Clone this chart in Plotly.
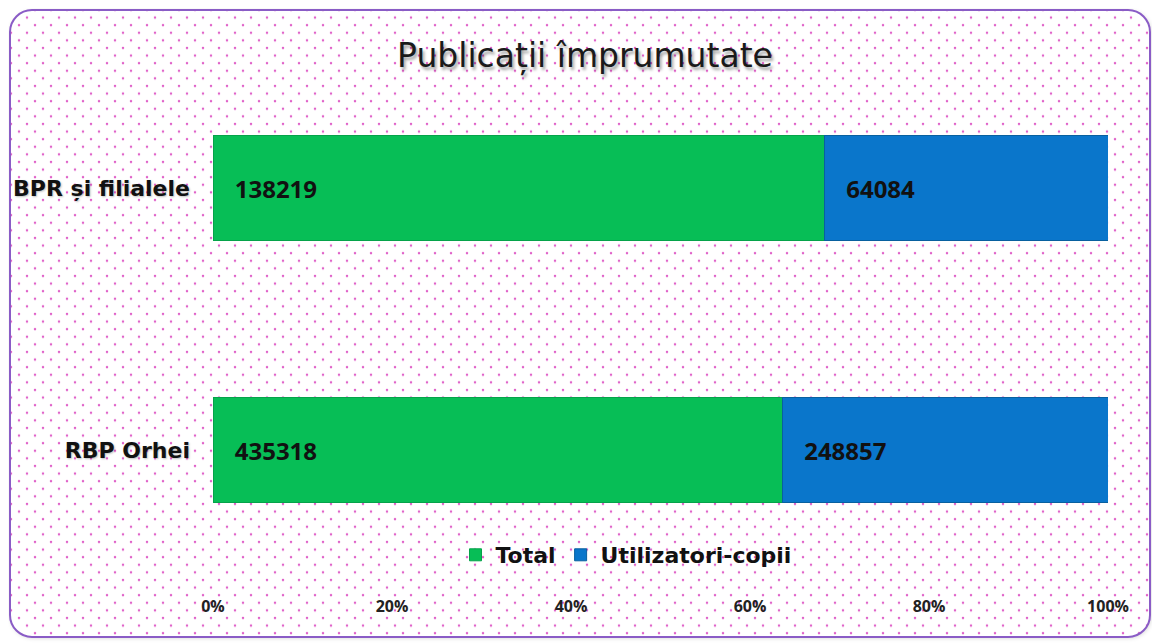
import base64
import plotly.graph_objects as go

categories = ["RBP Orhei", "BPR și filialele"]
total = [435318, 138219]
copii = [248857, 64084]
tick_vals = [0, 20, 40, 60, 80, 100]
tick_text = ["0%", "20%", "40%", "60%", "80%", "100%"]

# page body has an 8px margin, so the figure is drawn 8px smaller and offset
W, H = 1152, 636
ML, MR, MT, MB = 205, 52, 49, 63
PW, PH = W - ML - MR, H - MT - MB

svg = f'''<svg xmlns="http://www.w3.org/2000/svg" width="{W}" height="{H}" viewBox="0 0 {W} {H}">
<defs>
<pattern id="p" x="0" y="0" width="16" height="15.2" patternUnits="userSpaceOnUse">
<circle cx="11" cy="2" r="1.25" fill="#e063c9"/>
<circle cx="3" cy="9.6" r="1.25" fill="#e063c9"/>
</pattern>
<filter id="s" x="-5%" y="-5%" width="110%" height="110%"><feDropShadow dx="1" dy="1" stdDeviation="2" flood-color="#000" flood-opacity="0.18"/></filter>
</defs>
<rect x="0" y="0" width="{W}" height="{H}" fill="#ffffff"/>
<rect x="2" y="2" width="1140" height="627" rx="22" ry="22" fill="#ffffff" filter="url(#s)"/>
<rect x="2" y="2" width="1140" height="627" rx="22" ry="22" fill="url(#p)" stroke="#8a5cc6" stroke-width="2"/>
</svg>'''
src = "data:image/svg+xml;base64," + base64.b64encode(svg.encode("utf-8")).decode()

WIDE = "DejaVu Sans"
label_font = dict(family="Open Sans", size=24, color="#111111", weight="bold")
pad = "\u00a0\u00a0\u00a0"

fig = go.Figure()
fig.add_trace(go.Bar(
    y=categories, x=total, name="Total", orientation="h",
    text=total, texttemplate=pad + "%{text}",
    textposition="inside", insidetextanchor="start",
    textfont=label_font, constraintext="none",
    marker=dict(color="#07be56", line=dict(color="#05a34a", width=1)),
))
fig.add_trace(go.Bar(
    y=categories, x=copii, name="Utilizatori-copii", orientation="h",
    text=copii, texttemplate=pad + "%{text}",
    textposition="inside", insidetextanchor="start",
    textfont=label_font, constraintext="none",
    marker=dict(color="#0a76cb", line=dict(color="#08609f", width=1)),
))

fig.update_layout(
    width=W, height=H,
    margin=dict(l=ML, r=MR, t=MT, b=MB, pad=0, autoexpand=False),
    paper_bgcolor="rgba(0,0,0,0)", plot_bgcolor="rgba(0,0,0,0)",
    barmode="stack", barnorm="percent", bargap=0.6,
    title=dict(text="Publicații împrumutate", x=(585 - 8) / W, xanchor="center",
               y=1 - 47 / H, yanchor="middle", yref="container",
               font=dict(family=WIDE, size=33, color="#1a1a1a",
                         shadow="2px 3px 3px rgba(0,0,0,0.35)")),
    xaxis=dict(range=[0, 100], tickvals=tick_vals, ticktext=tick_text,
               showgrid=False, zeroline=False, showline=False, ticks="",
               ticklabelstandoff=14, automargin=False,
               tickfont=dict(family="Open Sans", size=16, color="#222222", weight="bold")),
    yaxis=dict(categoryorder="array", categoryarray=categories,
               showgrid=False, zeroline=False, showline=False, ticks="",
               ticklabelstandoff=22, automargin=False,
               tickfont=dict(family=WIDE, size=22, color="#111111", weight="bold",
                             shadow="1px 1px 2px rgba(0,0,0,0.25)")),
    legend=dict(orientation="h", x=(626 - 213) / PW, xanchor="center", y=(581 - 555) / PH,
                yanchor="middle", bgcolor="rgba(0,0,0,0)",
                font=dict(family=WIDE, size=22, color="#111111", weight="bold"),
                itemwidth=30, traceorder="normal"),
    showlegend=True,
    images=[dict(source=src, xref="paper", yref="paper",
                 x=-ML / PW, y=1 + MT / PH, sizex=W / PW, sizey=H / PH,
                 xanchor="left", yanchor="top", sizing="stretch", layer="below")],
)

fig.write_html("out.html")
